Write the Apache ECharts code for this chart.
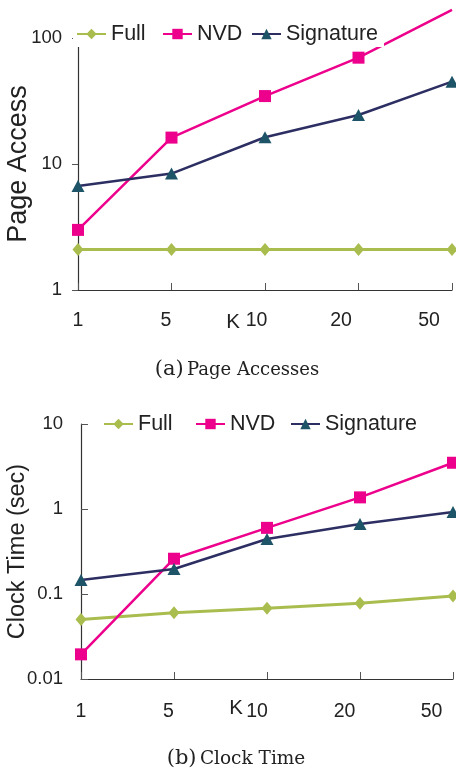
<!DOCTYPE html>
<html>
<head>
<meta charset="utf-8">
<script src="https://cdn.jsdelivr.net/npm/echarts@6/dist/echarts.min.js"></script>
<style>
html,body{margin:0;padding:0;background:#fff;}
#c{width:456px;height:770px;}
</style>
</head>
<body>
<div id="c"></div>
<script>
const categories = ['1', '5', '10', '20', '50'];
const pageFull = [2.1, 2.1, 2.1, 2.1, 2.1];
const pageNVD = [3.0, 16.2, 34.6, 69.8, 167];
const pageSig = [6.7, 8.4, 16.3, 24.5, 45];
const timeFull = [0.05, 0.06, 0.068, 0.078, 0.095];
const timeNVD = [0.0195, 0.26, 0.60, 1.37, 3.5];
const timeSig = [0.146, 0.197, 0.444, 0.666, 0.92];
const yTicksPage = [1, 10, 100];
const yTicksTime = [0.01, 0.1, 1, 10];
const seriesNames = ['Full', 'NVD', 'Signature'];

const FONT = "'Liberation Sans', Arial, sans-serif";
const SERIF = "'DejaVu Serif', serif";
const C_FULL = '#a9bd4f', C_NVD = '#ec008c', C_SIG_LINE = '#2d2f63', C_SIG_MK = '#1d5468';

function fmtTick(v) { return String(+Number(v).toPrecision(3)); }

function xLabelRich(shifts) {
  const r = {};
  shifts.forEach((s, i) => {
    r['l' + i] = { fontSize: 19.5, fontFamily: FONT, color: '#222', padding: [0, s, 0, 0] };
  });
  return r;
}

const chart = echarts.init(document.getElementById('c'), null, { renderer: 'canvas' });

function legendFor(name, left, top) {
  return {
    data: [name], left: left, top: top,
    orient: 'horizontal',
    itemWidth: 29, itemHeight: 13, itemGap: 0,
    padding: [5, 6, 1, 3],
    backgroundColor: '#fff',
    textStyle: { fontSize: 21.5, fontFamily: FONT, color: '#222', lineHeight: 24, padding: [0, 0, 0, 0] },
    z: 10
  };
}

function mkSeries(name, data, xi, yi, extra) {
  const base = {
    name: name, type: 'line', data: data, xAxisIndex: xi, yAxisIndex: yi,
    showAllSymbol: true, animation: false
  };
  if (name === 'Full') {
    Object.assign(base, { symbol: 'diamond', symbolSize: [11, 13], itemStyle: { color: C_FULL }, lineStyle: { color: C_FULL, width: 3 } });
  } else if (name === 'NVD') {
    Object.assign(base, { symbol: 'rect', symbolSize: 12, itemStyle: { color: C_NVD }, lineStyle: { color: C_NVD, width: 2.5 } });
  } else {
    Object.assign(base, { symbol: 'triangle', symbolSize: [13, 12], itemStyle: { color: C_SIG_MK }, lineStyle: { color: C_SIG_LINE, width: 2.5 } });
  }
  return Object.assign(base, extra || {});
}

const option = {
  backgroundColor: '#fff',
  animation: false,
  grid: [
    { left: 78, top: 38, width: 374, height: 252, containLabel: false, outerBoundsMode: 'none' },
    { left: 81, top: 424, width: 372, height: 255, containLabel: false, outerBoundsMode: 'none' }
  ],
  legend: [
    legendFor('Full', 73, 17),
    legendFor('NVD', 159, 17),
    legendFor('Signature', 248, 17),
    legendFor('Full', 100, 407),
    legendFor('NVD', 192, 407),
    legendFor('Signature', 287, 407)
  ],
  xAxis: [
    {
      gridIndex: 0, type: 'category', data: categories, boundaryGap: false,
      name: 'K', nameLocation: 'middle', nameGap: 22, nameMoveOverlap: false,
      nameTextStyle: { fontSize: 20.5, fontFamily: FONT, color: '#222', padding: [0, 64, 0, 0], verticalAlign: 'top' },
      axisLine: { lineStyle: { color: '#333', width: 1.2 } },
      axisTick: { inside: true, length: 7, lineStyle: { color: '#555' }, alignWithLabel: true },
      axisLabel: {
        margin: 21, interval: 0, hideOverlap: false,
        formatter: (v, i) => '{l' + i + '|' + v + '}',
        rich: xLabelRich([0, 11, 17, 35, 46])
      }
    },
    {
      gridIndex: 1, type: 'category', data: categories, boundaryGap: false,
      name: 'K', nameLocation: 'middle', nameGap: 19, nameMoveOverlap: false,
      nameTextStyle: { fontSize: 20.5, fontFamily: FONT, color: '#222', padding: [0, 62, 0, 0], verticalAlign: 'top' },
      axisLine: { lineStyle: { color: '#333', width: 1.2 } },
      axisTick: { inside: true, length: 7, lineStyle: { color: '#555' }, alignWithLabel: true },
      axisLabel: {
        margin: 23, interval: 0, hideOverlap: false,
        formatter: (v, i) => '{l' + i + '|' + v + '}',
        rich: xLabelRich([0, 11, 20, 31, 43])
      }
    }
  ],
  yAxis: [
    {
      gridIndex: 0, type: 'log', logBase: 10,
      min: yTicksPage[0], max: yTicksPage[yTicksPage.length - 1],
      name: 'Page Access', nameLocation: 'middle', nameGap: 46, nameMoveOverlap: false,
      nameTextStyle: { fontSize: 27, fontFamily: FONT, color: '#222' },
      axisLine: { show: true, lineStyle: { color: '#333', width: 1.2 } },
      axisTick: { show: true, inside: false, length: 6, lineStyle: { color: '#555' } },
      splitLine: { show: false },
      minorTick: { show: false },
      axisLabel: { margin: 16, fontSize: 18.5, fontFamily: FONT, color: '#222', formatter: fmtTick }
    },
    {
      gridIndex: 1, type: 'log', logBase: 10,
      min: yTicksTime[0], max: yTicksTime[yTicksTime.length - 1],
      name: 'Clock Time (sec)', nameLocation: 'middle', nameGap: 51, nameMoveOverlap: false,
      nameTextStyle: { fontSize: 23.5, fontFamily: FONT, color: '#222' },
      axisLine: { show: true, lineStyle: { color: '#333', width: 1.2 } },
      axisTick: { show: true, inside: true, length: 7, lineStyle: { color: '#555' } },
      splitLine: { show: false },
      minorTick: { show: false },
      axisLabel: { margin: 18, fontSize: 18.5, fontFamily: FONT, color: '#222', formatter: fmtTick }
    }
  ],
  series: [
    mkSeries('Full', pageFull, 0, 0),
    mkSeries('NVD', pageNVD, 0, 0, {
      clip: false,
      symbolSize: function (v) { return (typeof v === 'number' && v > yTicksPage[yTicksPage.length - 1]) ? 0 : 12; }
    }),
    mkSeries('Signature', pageSig, 0, 0, { z: 3 }),
    mkSeries('Full', timeFull, 1, 1),
    mkSeries('NVD', timeNVD, 1, 1),
    mkSeries('Signature', timeSig, 1, 1, { z: 3 })
  ],
  graphic: [
    {
      type: 'text', x: 237, y: 370, z: 100,
      style: {
        text: '{a|(a)} {b|Page Accesses}', align: 'center', verticalAlign: 'middle',
        rich: {
          a: { fontFamily: SERIF, fontSize: 21, fill: '#222' },
          b: { fontFamily: SERIF, fontSize: 18, fill: '#222' }
        }
      }
    },
    {
      type: 'text', x: 236, y: 759, z: 100,
      style: {
        text: '{a|(b)} {b|Clock Time}', align: 'center', verticalAlign: 'middle',
        rich: {
          a: { fontFamily: SERIF, fontSize: 21, fill: '#222' },
          b: { fontFamily: SERIF, fontSize: 18.5, fill: '#222' }
        }
      }
    }
  ]
};
chart.setOption(option);
</script>
</body>
</html>
